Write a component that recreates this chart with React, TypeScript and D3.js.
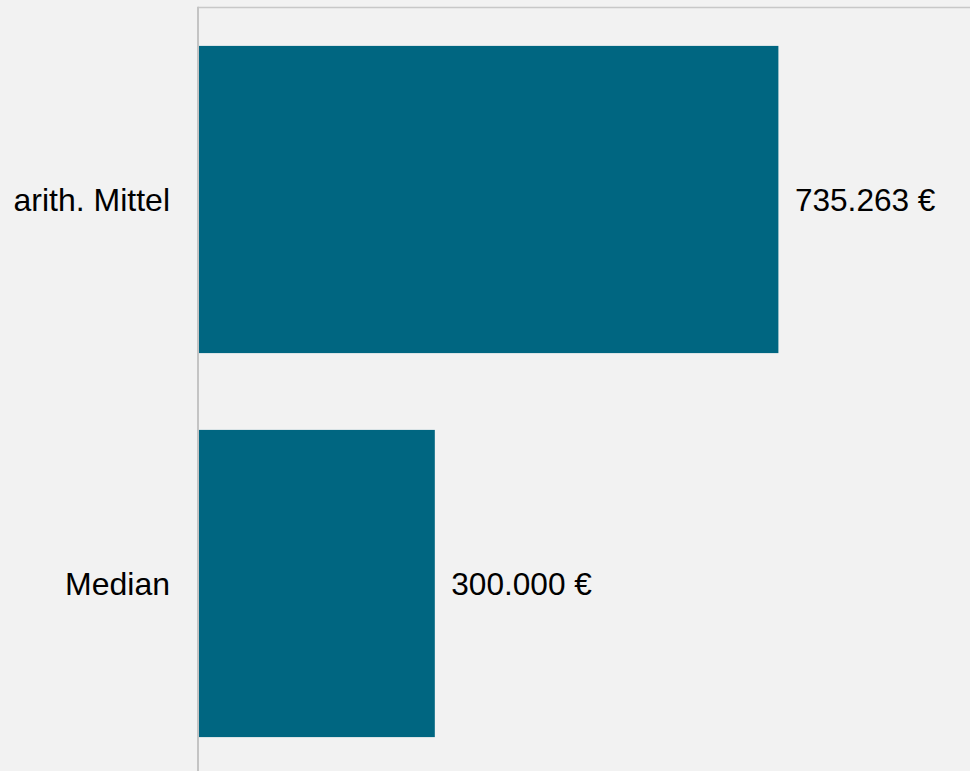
import React from "react";
import * as d3 from "d3";

const categories = ["arith. Mittel", "Median"];
const values = [735263, 300000];
const valueLabels = ["735.263 €", "300.000 €"];

const W = 970;
const H = 771;
const plotLeft = 198;
const plotTop = 7.5;
const plotBottom = 775.5;

export default function App() {
  const x = d3.scaleLinear().domain([0, 978000]).range([plotLeft, W]);
  const y = d3
    .scaleBand<string>()
    .domain(categories)
    .range([plotTop, plotBottom])
    .paddingInner(0.2)
    .paddingOuter(0.1);

  const font = "'Liberation Sans', Arial, Helvetica, sans-serif";

  return (
    <svg
      width={W}
      height={H}
      style={{ position: "absolute", left: 0, top: 0, display: "block" }}
    >
      <rect x={0} y={0} width={W} height={H} fill="#f2f2f2" />
      {categories.map((c, i) => (
        <g key={c}>
          <rect
            x={x(0)}
            y={y(c)!}
            width={x(values[i]) - x(0)}
            height={y.bandwidth()}
            fill="#006681"
          />
          <text
            x={x(values[i]) + 16.5}
            y={y(c)! + y.bandwidth() / 2}
            dy="0.35em"
            fontFamily={font}
            fontSize={31.6}
            fill="#000"
          >
            {valueLabels[i]}
          </text>
          <text
            x={170}
            y={y(c)! + y.bandwidth() / 2}
            dy="0.35em"
            textAnchor="end"
            fontFamily={font}
            fontSize={32}
            fill="#000"
          >
            {c}
          </text>
        </g>
      ))}
      <line x1={plotLeft} x2={W} y1={plotTop} y2={plotTop} stroke="#c8c8c8" strokeWidth={1.6} />
      <line x1={plotLeft} x2={plotLeft} y1={plotTop - 0.8} y2={H} stroke="#c4c4c4" strokeWidth={2} />
    </svg>
  );
}
